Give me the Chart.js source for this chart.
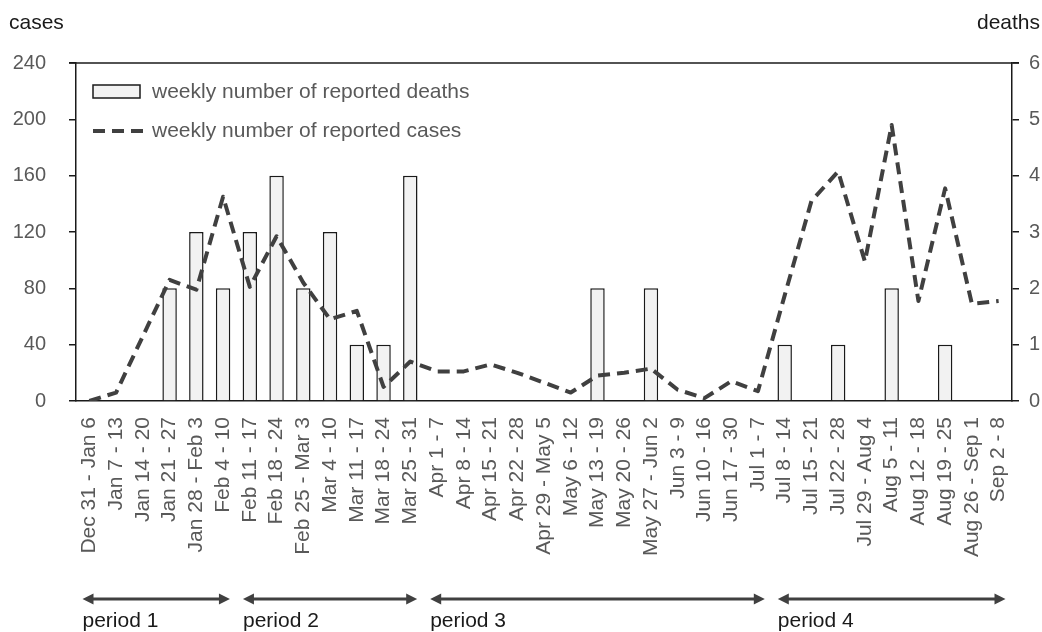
<!DOCTYPE html>
<html>
<head>
<meta charset="utf-8">
<script src="https://cdn.jsdelivr.net/npm/chart.js@4"></script>
<style>
  html, body { margin: 0; padding: 0; background: #fff; }
  #wrap { width: 1042px; height: 632px; }
</style>
</head>
<body>
<div id="wrap"><canvas id="chart" width="1042" height="632"></canvas></div>
<script>
const weeks = [
    'Dec 31 - Jan 6', 'Jan 7 - 13', 'Jan 14 - 20', 'Jan 21 - 27', 'Jan 28 - Feb 3',
    'Feb 4 - 10', 'Feb 11 - 17', 'Feb 18 - 24', 'Feb 25 - Mar 3', 'Mar 4 - 10',
    'Mar 11 - 17', 'Mar 18 - 24', 'Mar 25 - 31', 'Apr 1 - 7', 'Apr 8 - 14',
    'Apr 15 - 21', 'Apr 22 - 28', 'Apr 29 - May 5', 'May 6 - 12', 'May 13 - 19',
    'May 20 - 26', 'May 27 - Jun 2', 'Jun 3 - 9', 'Jun 10 - 16', 'Jun 17 - 30',
    'Jul 1 - 7', 'Jul 8 - 14', 'Jul 15 - 21', 'Jul 22 - 28', 'Jul 29 - Aug 4',
    'Aug 5 - 11', 'Aug 12 - 18', 'Aug 19 - 25', 'Aug 26 - Sep 1', 'Sep 2 - 8'
];
const weeklyCases = [
    0, 6, 46, 86, 79, 145, 81, 117, 84, 58,
    64, 10, 28, 21, 21, 26, 20, 13, 6, 18,
    20, 23, 8, 2, 14, 7, 75, 142, 163, 99,
    196, 71, 151, 69, 71
];
const weeklyDeaths = [
    0, 0, 0, 2, 3, 2, 3, 4, 2, 3,
    1, 1, 4, 0, 0, 0, 0, 0, 0, 2,
    0, 2, 0, 0, 0, 0, 1, 0, 1, 0,
    2, 0, 1, 0, 0
];
const periodNames = ['period 1', 'period 2', 'period 3', 'period 4'];
const periodFirstWeek = [0, 6, 13, 26];
const periodLastWeek = [5, 12, 25, 34];

const FONT = '"Liberation Sans", Arial, sans-serif';
const TICK_GREY = '#595959';
const LINE_GREY = '#404040';

// top border of plot, axis titles, inner legend and period arrows
const extras = {
    id: 'extras',
    afterDraw(chart) {
        const ctx = chart.ctx;
        const area = chart.chartArea;
        const x = chart.scales.x;
        ctx.save();

        ctx.strokeStyle = '#1a1a1a';
        ctx.lineWidth = 1.5;
        ctx.beginPath();
        ctx.moveTo(area.left - 7, area.top);
        ctx.lineTo(area.right + 7, area.top);
        ctx.stroke();

        ctx.fillStyle = '#1a1a1a';
        ctx.font = '21px ' + FONT;
        ctx.textBaseline = 'middle';
        ctx.textAlign = 'left';
        ctx.fillText('cases', 9, 23);
        ctx.textAlign = 'right';
        ctx.fillText('deaths', 1040, 23);

        // legend
        const lx = area.left + 17;
        ctx.fillStyle = '#f2f2f2';
        ctx.fillRect(lx, area.top + 22, 47, 13);
        ctx.strokeStyle = '#1a1a1a';
        ctx.lineWidth = 1.5;
        ctx.strokeRect(lx, area.top + 22, 47, 13);
        ctx.strokeStyle = LINE_GREY;
        ctx.lineWidth = 4;
        ctx.setLineDash([12, 7]);
        ctx.beginPath();
        ctx.moveTo(lx, area.top + 68);
        ctx.lineTo(lx + 50, area.top + 68);
        ctx.stroke();
        ctx.setLineDash([]);
        ctx.fillStyle = TICK_GREY;
        ctx.textAlign = 'left';
        ctx.fillText('weekly number of reported deaths', lx + 59, area.top + 29);
        ctx.fillText('weekly number of reported cases', lx + 59, area.top + 68);

        // periods
        const step = x.getPixelForValue(1) - x.getPixelForValue(0);
        const ay = 599;
        periodNames.forEach((name, i) => {
            const x0 = x.getPixelForValue(periodFirstWeek[i]) - step / 2 + 6.5;
            const x1 = x.getPixelForValue(periodLastWeek[i]) + step / 2 - 6.5;
            ctx.strokeStyle = LINE_GREY;
            ctx.fillStyle = LINE_GREY;
            ctx.lineWidth = 3;
            ctx.beginPath();
            ctx.moveTo(x0 + 6, ay);
            ctx.lineTo(x1 - 6, ay);
            ctx.stroke();
            ctx.beginPath();
            ctx.moveTo(x0, ay);
            ctx.lineTo(x0 + 11, ay - 5.5);
            ctx.lineTo(x0 + 11, ay + 5.5);
            ctx.closePath();
            ctx.fill();
            ctx.beginPath();
            ctx.moveTo(x1, ay);
            ctx.lineTo(x1 - 11, ay - 5.5);
            ctx.lineTo(x1 - 11, ay + 5.5);
            ctx.closePath();
            ctx.fill();
            ctx.fillStyle = '#1a1a1a';
            ctx.textBaseline = 'alphabetic';
            ctx.textAlign = 'left';
            ctx.fillText(name, x0, 627);
        });
        ctx.restore();
    }
};

new Chart(document.getElementById('chart'), {
    data: {
        labels: weeks,
        datasets: [
            {
                type: 'line',
                label: 'weekly number of reported cases',
                data: weeklyCases,
                yAxisID: 'yCases',
                borderColor: LINE_GREY,
                borderWidth: 4,
                borderDash: [12, 7],
                borderJoinStyle: 'round',
                pointRadius: 0,
                tension: 0,
                fill: false,
                order: 0
            },
            {
                type: 'bar',
                label: 'weekly number of reported deaths',
                data: weeklyDeaths,
                yAxisID: 'yDeaths',
                backgroundColor: '#f2f2f2',
                borderColor: '#1a1a1a',
                borderWidth: 1.5,
                borderSkipped: 'bottom',
                barPercentage: 0.54,
                categoryPercentage: 1,
                order: 1
            }
        ]
    },
    options: {
        responsive: false,
        animation: false,
        layout: { padding: { top: 63, left: 0, right: 0, bottom: 0 } },
        plugins: {
            legend: { display: false },
            tooltip: { enabled: false }
        },
        scales: {
            x: {
                grid: { display: false },
                border: { display: true, color: '#1a1a1a', width: 1.5 },
                ticks: {
                    autoSkip: false,
                    maxRotation: 90,
                    minRotation: 90,
                    padding: 8,
                    color: TICK_GREY,
                    font: { family: FONT, size: 21 }
                },
                afterFit(s) { s.height = 231; }
            },
            yCases: {
                position: 'left',
                min: 0,
                max: 240,
                ticks: {
                    stepSize: 40,
                    padding: 23,
                    color: TICK_GREY,
                    font: { family: FONT, size: 20 }
                },
                grid: { drawOnChartArea: false, tickLength: 7, color: '#1a1a1a', lineWidth: 1.5 },
                border: { display: true, color: '#1a1a1a', width: 1.5 },
                afterFit(s) { s.width = 76; }
            },
            yDeaths: {
                position: 'right',
                min: 0,
                max: 6,
                ticks: {
                    stepSize: 1,
                    padding: 10,
                    color: TICK_GREY,
                    font: { family: FONT, size: 20 }
                },
                grid: { drawOnChartArea: false, tickLength: 7, color: '#1a1a1a', lineWidth: 1.5 },
                border: { display: true, color: '#1a1a1a', width: 1.5 },
                afterFit(s) { s.width = 30; }
            }
        }
    },
    plugins: [extras]
});
</script>
</body>
</html>
